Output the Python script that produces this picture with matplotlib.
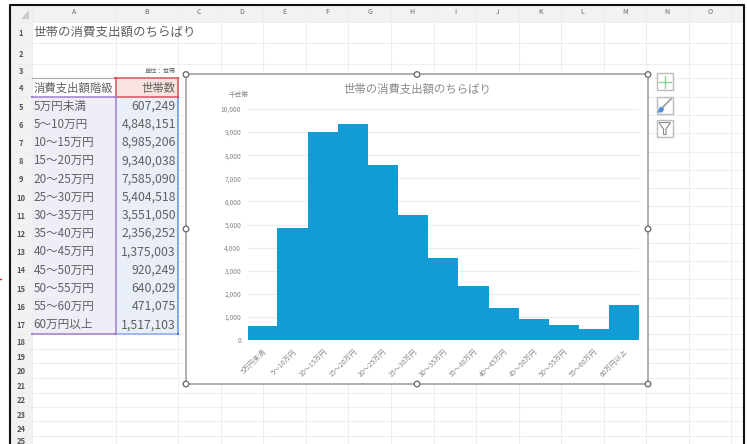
import matplotlib
matplotlib.use('Agg')
import matplotlib.pyplot as plt
from matplotlib.patches import Rectangle, Circle, Polygon

plt.rcParams['font.family'] = ['Noto Sans CJK JP', 'DejaVu Sans']

W, H = 747, 444

categories = ['5万円未満', '5～10万円', '10～15万円', '15～20万円', '20～25万円',
              '25～30万円', '30～35万円', '35～40万円', '40～45万円', '45～50万円',
              '50～55万円', '55～60万円', '60万円以上']
households = [607249, 4848151, 8985206, 9340038, 7585090, 5404518, 3551050,
              2356252, 1375003, 920249, 640029, 471075, 1517103]
y_ticks = [0, 1000, 2000, 3000, 4000, 5000, 6000, 7000, 8000, 9000, 10000]
col_names = list('ABCDEFGHIJKLMNO')

# sheet grid edges in pixels
col_edges = [32, 115.5, 178, 220.6, 263.2, 305.8, 348.4, 391, 433.6, 476.2,
             518.8, 561.4, 603.5, 646, 688.5, 731]
row_edges = [22, 43, 64, 78, 97, 115.2, 133.4, 151.6, 169.8, 188, 206.2, 224.4,
             242.6, 260.8, 279, 297.5, 315.7, 334, 349, 363, 378, 392.5, 407,
             421, 436, 450]

GRID = '#eeeeee'
TXT = '#606060'

fig = plt.figure(figsize=(W / 100, H / 100), dpi=100, facecolor='white')

sheet = fig.add_axes([0, 0, 1, 1])
sheet.set_xlim(0, W)
sheet.set_ylim(H, 0)
sheet.axis('off')

# headers
sheet.add_patch(Rectangle((10, 6), 733, 16, fc='#f2f2f2', ec='none'))
sheet.add_patch(Rectangle((10, 22), 22, 430, fc='#f2f2f2', ec='none'))
sheet.add_patch(Polygon([[29, 19], [29, 10], [21, 19]], fc='#cccccc', ec='none'))

# selected data fills
sheet.add_patch(Rectangle((32, 97), 83.5, 237, fc='#f1edf8', ec='none'))
sheet.add_patch(Rectangle((115.5, 97), 62.5, 237, fc='#e9eff8', ec='none'))
sheet.add_patch(Rectangle((115.5, 78), 62.5, 19, fc='#f8e3e0', ec='none'))

for x in col_edges:
    sheet.plot([x, x], [6, 444], color=GRID, lw=0.8, zorder=1)
for y in row_edges:
    sheet.plot([10, 743], [y, y], color=GRID, lw=0.8, zorder=1)
sheet.plot([32, 115.5], [78, 78], color='#aaaaaa', lw=0.8, zorder=2)

for i, name in enumerate(col_names):
    sheet.text((col_edges[i] + col_edges[i + 1]) / 2, 12.5, name, ha='center',
               va='center', fontsize=5, color='#666666')
for i in range(len(row_edges) - 1):
    yc = (row_edges[i] + min(row_edges[i + 1], 444)) / 2
    sheet.text(21, yc + 1, str(i + 1), ha='center', va='center', fontsize=5.5,
               color='#555555', fontweight='bold')

# cell contents
sheet.text(33, 32, '世帯の消費支出額のちらばり', ha='left', va='center', fontsize=9, color=TXT)
sheet.text(176, 71, '単位：世帯', ha='right', va='center', fontsize=4.5, color='#666666')
sheet.text(33.5, 88, '消費支出額階級', ha='left', va='center', fontsize=8.2, color=TXT)
sheet.text(176, 88, '世帯数', ha='right', va='center', fontsize=8.2, color=TXT)
for i, (cat, val) in enumerate(zip(categories, households)):
    yc = (row_edges[i + 4] + row_edges[i + 5]) / 2
    sheet.text(33.5, yc, cat, ha='left', va='center', fontsize=8.4, color=TXT)
    sheet.text(176, yc, f'{val:,}', ha='right', va='center', fontsize=8.8, color=TXT)

# selection outlines
PURPLE = '#9f7fd0'
sheet.plot([32, 115.5, 115.5, 32], [97, 97, 334, 334], color=PURPLE, lw=1.1, zorder=3)
sheet.add_patch(Rectangle((115.5, 78), 62.5, 19, fc='none', ec='#d8505a', lw=1.1, zorder=3))
sheet.plot([178, 178], [97, 334], color='#86a9ea', lw=1.5, zorder=3)
sheet.plot([118, 178], [334, 334], color='#86a9ea', lw=1.1, zorder=3)
for x, y, c in [(32, 97, PURPLE), (115.5, 97, PURPLE), (32, 334, PURPLE),
                (115.5, 334, PURPLE), (115.5, 78, '#d8505a'), (178, 78, '#d8505a'),
                (178, 97, '#d8505a'), (178, 334, '#3f78e0')]:
    sheet.add_patch(Rectangle((x - 1.3, y - 1.3), 2.6, 2.6, fc=c, ec='none', zorder=4))

# chart area
cx0, cy0, cx1, cy1 = 186, 74.5, 648, 384
sheet.add_patch(Rectangle((cx0, cy0), cx1 - cx0, cy1 - cy0, fc='white', ec='#999999',
                          lw=1.1, zorder=5))
sheet.text(417, 89, '世帯の消費支出額のちらばり', ha='center', va='center', fontsize=8.2,
           color='#8a8a8a', zorder=6)
sheet.text(239, 95.5, '千世帯', ha='center', va='center', fontsize=4.8, color='#888888', zorder=6)

# outer window border
sheet.plot([10, 10, 743.5, 743.5], [444, 5.5, 5.5, 444], color='#111111', lw=1.5, zorder=9)
sheet.plot([0, 1.2], [279, 279], color='#d03030', lw=1, zorder=9)

# histogram
ax = fig.add_axes([247.5 / W, 1 - 340 / H, (639 - 247.5) / W, (340 - 109) / H], zorder=6)
ax.patch.set_alpha(0)
ax.bar(range(len(categories)), [v / 1000 for v in households], width=1.01,
       color='#119cd5', linewidth=0, zorder=3)
ax.set_xlim(-0.5, len(categories) - 0.5)
ax.set_ylim(0, 10000)
ax.set_yticks(y_ticks)
ax.set_yticklabels([f'{t:,}' for t in y_ticks], fontsize=4.8, color='#888888')
ax.set_xticks(range(len(categories)))
ax.set_xticklabels(categories, rotation=45, ha='right', rotation_mode='anchor',
                   fontsize=5, color='#8a8a8a')
ax.tick_params(length=0, pad=4.5, axis='y')
ax.tick_params(length=0, pad=5.5, axis='x')
ax.grid(axis='y', color='#ececec', lw=0.8, zorder=0)
ax.set_axisbelow(True)
for s in ax.spines.values():
    s.set_visible(False)

# handles on the chart frame
for hx, hy in [(cx0, cy0), (417, cy0), (cx1, cy0), (cx0, 229), (cx1, 229),
               (cx0, cy1), (417, cy1), (cx1, cy1)]:
    sheet.add_patch(Circle((hx, hy), 2.8, fc='white', ec='#707070', lw=1, zorder=7))

# chart side buttons
for by in [73.5, 97, 120]:
    sheet.add_patch(Rectangle((656.5, by), 16.5, 16.5, fc='white', ec='#bbbbbb', lw=1, zorder=6))
sheet.plot([664.7, 664.7], [76, 88], color='#8fd19e', lw=1, zorder=7)
sheet.plot([659, 670.5], [82, 82], color='#8fd19e', lw=1, zorder=7)
sheet.plot([662, 671], [108, 99], color='#9a9a9a', lw=1.2, zorder=7)
sheet.add_patch(Polygon([[657.5, 112.5], [660, 106.5], [664.5, 109], [662, 112.5]], fc='#4a8fdc', ec='none', zorder=7))
sheet.add_patch(Polygon([[659, 122.5], [670.5, 122.5], [666, 129], [666, 134.5], [663.5, 134.5], [663.5, 129]],
                        fc='white', ec='#8a8a8a', lw=0.8, zorder=7))

fig.savefig('out.png', dpi=100)
